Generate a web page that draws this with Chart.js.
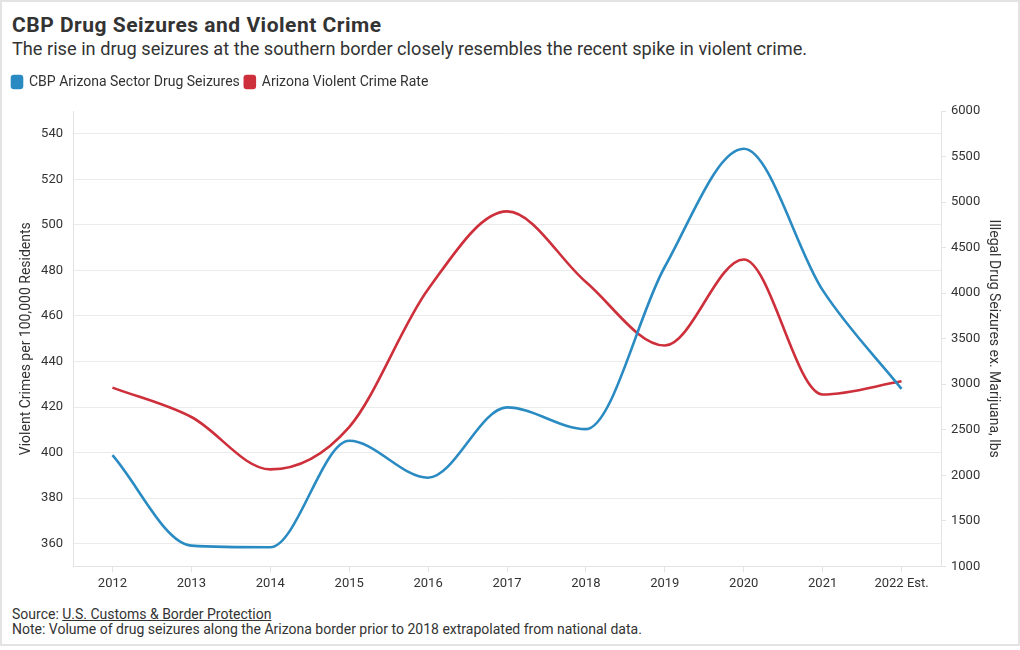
<!DOCTYPE html>
<html>
<head>
<meta charset="utf-8">
<script src="https://cdn.jsdelivr.net/npm/chart.js@4.4.0/dist/chart.umd.min.js"></script>
<style>
html,body{margin:0;padding:0;background:#fff;}
body{width:1020px;height:650px;position:relative;overflow:hidden;font-family:Roboto,sans-serif;color:#333;}
#frame{position:absolute;left:0;top:0;width:1020px;height:646px;box-sizing:border-box;border:2px solid #e3e3e3;pointer-events:none;}
#title{position:absolute;left:12px;top:13px;font-size:21px;font-weight:700;letter-spacing:0.5px;color:#333;white-space:nowrap;}
#subtitle{position:absolute;left:12px;top:38px;font-size:18.2px;color:#333;white-space:nowrap;}
#wrap{position:absolute;left:0;top:70px;width:1020px;height:530px;}
#footer{position:absolute;left:12px;top:607px;font-size:14px;line-height:15px;color:#333;white-space:nowrap;}
#footer a{color:#333;text-decoration:underline;}
</style>
</head>
<body>
<div id="title">CBP Drug Seizures and Violent Crime</div>
<div id="subtitle">The rise in drug seizures at the southern border closely resembles the recent spike in violent crime.</div>
<div id="wrap"><canvas id="c"></canvas></div>
<div id="footer">Source: <a>U.S. Customs &amp; Border Protection</a><br>Note: Volume of drug seizures along the Arizona border prior to 2018 extrapolated from national data.</div>
<div id="frame"></div>
<script>
const years = ['2012','2013','2014','2015','2016','2017','2018','2019','2020','2021','2022 Est.'];
const drugSeizures = [2221, 1228, 1210, 2379, 1974, 2746, 2507, 4290, 5585, 4033, 2949];
const violentCrime = [428.5, 415.6, 392.6, 411.2, 471.7, 505.9, 474.9, 447.0, 484.8, 425.5, 431.3];
const crimeTicks = [360, 380, 400, 420, 440, 460, 480, 500, 520, 540];
const seizureTicks = [1000, 1500, 2000, 2500, 3000, 3500, 4000, 4500, 5000, 5500, 6000];

const BLUE = '#2a8bc3';
const RED = '#cd2f3b';
const GRID = '#ebebeb';
const AXIS = '#e3e3e3';
const TXT = '#333333';

Chart.defaults.font.family = 'Roboto, sans-serif';
Chart.defaults.color = TXT;

new Chart(document.getElementById('c'), {
  type: 'line',
  data: {
    labels: years,
    datasets: [
      {
        label: 'CBP Arizona Sector Drug Seizures',
        data: drugSeizures,
        yAxisID: 'ySeize',
        borderColor: BLUE,
        backgroundColor: BLUE,
        borderWidth: 2.6,
        pointRadius: 0,
        cubicInterpolationMode: 'monotone',
        fill: false
      },
      {
        label: 'Arizona Violent Crime Rate',
        data: violentCrime,
        yAxisID: 'yCrime',
        borderColor: RED,
        backgroundColor: RED,
        borderWidth: 2.6,
        pointRadius: 0,
        cubicInterpolationMode: 'monotone',
        fill: false
      }
    ]
  },
  options: {
    responsive: true,
    maintainAspectRatio: false,
    animation: false,
    layout: { padding: { left: 7, right: 14, top: 0, bottom: 4 } },
    plugins: {
      legend: {
        position: 'top',
        align: 'start',
        labels: {
          boxWidth: 10,
          boxHeight: 12,
          padding: 5,
          useBorderRadius: true,
          borderRadius: 2,
          color: TXT,
          font: { size: 14 }
        }
      },
      title: {
        display: true,
        text: '',
        weight: 500,
        padding: 0,
        font: { size: 10, lineHeight: 1.2 }
      },
      tooltip: { enabled: false }
    },
    scales: {
      x: {
        type: 'category',
        offset: true,
        grid: { drawOnChartArea: false, drawTicks: true, tickLength: 6, color: AXIS },
        border: { display: true, color: AXIS },
        ticks: { color: TXT, font: { size: 13 }, padding: 4, maxRotation: 0, autoSkip: false }
      },
      yCrime: {
        type: 'linear',
        position: 'left',
        min: 350,
        max: 550,
        afterBuildTicks: (scale) => { scale.ticks = crimeTicks.map(v => ({ value: v })); },
        afterFit: (scale) => { scale.width = 66; },
        grid: { color: GRID, drawTicks: false },
        border: { display: true, color: AXIS },
        ticks: { color: TXT, font: { size: 13 }, padding: 10, callback: (v) => String(v) },
        title: {
          display: true,
          text: 'Violent Crimes per 100,000 Residents',
          color: TXT,
          font: { size: 14 },
          padding: { top: 11, bottom: 4 }
        }
      },
      ySeize: {
        type: 'linear',
        position: 'right',
        min: 1000,
        max: 6000,
        afterBuildTicks: (scale) => { scale.ticks = seizureTicks.map(v => ({ value: v })); },
        afterFit: (scale) => { scale.width = 65; },
        grid: { drawOnChartArea: false, drawTicks: true, tickLength: 5, color: AXIS },
        border: { display: true, color: AXIS },
        ticks: { color: TXT, font: { size: 13 }, padding: 5, callback: (v) => String(v) },
        title: {
          display: true,
          text: 'Illegal Drug Seizures ex. Marijuana, lbs',
          color: TXT,
          font: { size: 14 },
          padding: { top: 4.6, bottom: 4 }
        }
      }
    }
  }
});
</script>
</body>
</html>
